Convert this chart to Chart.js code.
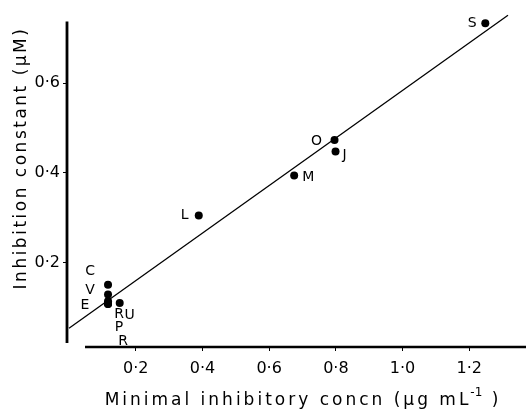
<!DOCTYPE html>
<html>
<head>
<meta charset="utf-8">
<script src="https://cdn.jsdelivr.net/npm/chart.js@4.4.1/dist/chart.umd.min.js"></script>
<style>
    body { margin: 0; background: #fff; }
    #wrap { width: 530px; height: 410px; }
</style>
</head>
<body>
<div id="wrap"><canvas id="mic-chart" width="530" height="410"></canvas></div>
<script>
// compound labels, MIC (x) and inhibition constant (y)
const compounds = ['C', 'V', 'E', 'R', 'U', 'P', 'R', 'L', 'M', 'O', 'J', 'S'];
const micValues = [0.117, 0.117, 0.117, 0.117, 0.152, 0.117, 0.117, 0.389, 0.675, 0.796, 0.799, 1.248];
const kiValues = [0.151, 0.129, 0.114, 0.110, 0.110, 0.108, 0.108, 0.305, 0.394, 0.473, 0.4475, 0.733];

// fitted line, read at its two ends
const fitX = [0, 1.316];
const fitY = [0.054, 0.751];

const xTicks = [0.2, 0.4, 0.6, 0.8, 1.0, 1.2];
const xTickLabels = ['0·2', '0·4', '0·6', '0·8', '1·0', '1·2'];
const yTicks = [0.2, 0.4, 0.6];
const yTickLabels = ['0·2', '0·4', '0·6'];

// where the drawn axis lines stop
const xAxisStart = 0.048;
const yAxisTop = 0.737;
const yAxisBottom = 0.021;

// label offsets from each dot, px
const labelDx = [-18, -18, -23, 11, 10, 11, 15, -14, 14, -18, 9, -13];
const labelDy = [-13, -4, 4, 11, 12, 23, 37, 0, 2, 1, 4, 0];

const FONT = '"DejaVu Sans", sans-serif';

const points = micValues.map(function (v, i) {
    return { x: v, y: kiValues[i] };
});
const fitLine = fitX.map(function (v, i) {
    return { x: v, y: fitY[i] };
});

const decorPlugin = {
    id: 'decor',
    afterDraw: function (chart) {
        const c = chart.ctx;
        const area = chart.chartArea;
        const xs = chart.scales.x;
        const ys = chart.scales.y;

        c.save();
        c.strokeStyle = '#000';
        c.lineCap = 'butt';

        // y axis
        c.lineWidth = 2.8;
        c.beginPath();
        c.moveTo(area.left, ys.getPixelForValue(yAxisTop));
        c.lineTo(area.left, ys.getPixelForValue(yAxisBottom));
        c.stroke();

        // x axis
        c.lineWidth = 2.4;
        c.beginPath();
        c.moveTo(xs.getPixelForValue(xAxisStart), area.bottom);
        c.lineTo(area.right, area.bottom);
        c.stroke();

        // point letters
        const meta = chart.getDatasetMeta(0);
        c.fillStyle = '#000';
        c.font = '14px ' + FONT;
        c.textAlign = 'center';
        c.textBaseline = 'middle';
        meta.data.forEach(function (pt, i) {
            c.fillText(compounds[i], pt.x + labelDx[i], pt.y + labelDy[i]);
        });

        // x title, with a real superscript
        c.textAlign = 'left';
        c.textBaseline = 'alphabetic';
        c.letterSpacing = '3px';
        const main = 'Minimal inhibitory concn (μg mL';
        const tail = ' )';
        c.font = '17px ' + FONT;
        const wMain = c.measureText(main).width;
        const wTail = c.measureText(tail).width;
        c.font = '12px ' + FONT;
        c.letterSpacing = '0px';
        const wSup = c.measureText('-1').width;
        let x = 303 - (wMain + wSup + wTail) / 2;
        c.fillText('-1', x + wMain - 1, 396);
        c.font = '17px ' + FONT;
        c.letterSpacing = '3px';
        c.fillText(main, x, 405);
        c.fillText(tail, x + wMain + wSup, 405);

        // y title
        c.textAlign = 'center';
        c.letterSpacing = '2.5px';
        c.translate(26, 158);
        c.rotate(-Math.PI / 2);
        c.fillText('Inhibition constant (μM)', 0, 0);
        c.restore();
    }
};

const ctx = document.getElementById('mic-chart').getContext('2d');
new Chart(ctx, {
    type: 'scatter',
    data: {
        datasets: [{
            data: points,
            backgroundColor: '#000',
            borderColor: '#000',
            pointRadius: 4,
            pointHoverRadius: 4,
            borderWidth: 0
        }, {
            data: fitLine,
            showLine: true,
            borderColor: '#000',
            borderWidth: 1.3,
            pointRadius: 0,
            fill: false
        }]
    },
    options: {
        responsive: false,
        animation: false,
        events: [],
        layout: { padding: { top: 10, left: 0, right: 0, bottom: 0 } },
        plugins: {
            legend: { display: false },
            tooltip: { enabled: false }
        },
        scales: {
            x: {
                type: 'linear',
                min: -0.006,
                max: 1.37,
                border: { display: false },
                grid: { drawOnChartArea: false, drawTicks: true, tickLength: 4, color: '#000', lineWidth: 1 },
                afterBuildTicks: function (scale) {
                    scale.ticks = xTicks.map(function (v) { return { value: v }; });
                },
                afterFit: function (scale) { scale.height = 63; },
                ticks: {
                    color: '#000',
                    padding: 8,
                    font: { family: FONT, size: 16 },
                    callback: function (value) {
                        return xTickLabels[xTicks.indexOf(value)];
                    }
                }
            },
            y: {
                type: 'linear',
                min: 0.01215,
                max: 0.757,
                border: { display: false },
                grid: { drawOnChartArea: false, drawTicks: true, tickLength: 4, color: '#000', lineWidth: 1 },
                afterBuildTicks: function (scale) {
                    scale.ticks = yTicks.map(function (v) { return { value: v }; });
                },
                afterFit: function (scale) { scale.width = 67; },
                ticks: {
                    color: '#000',
                    padding: 3,
                    font: { family: FONT, size: 16 },
                    callback: function (value) {
                        return yTickLabels[yTicks.indexOf(value)];
                    }
                }
            }
        }
    },
    plugins: [decorPlugin]
});
</script>
</body>
</html>
